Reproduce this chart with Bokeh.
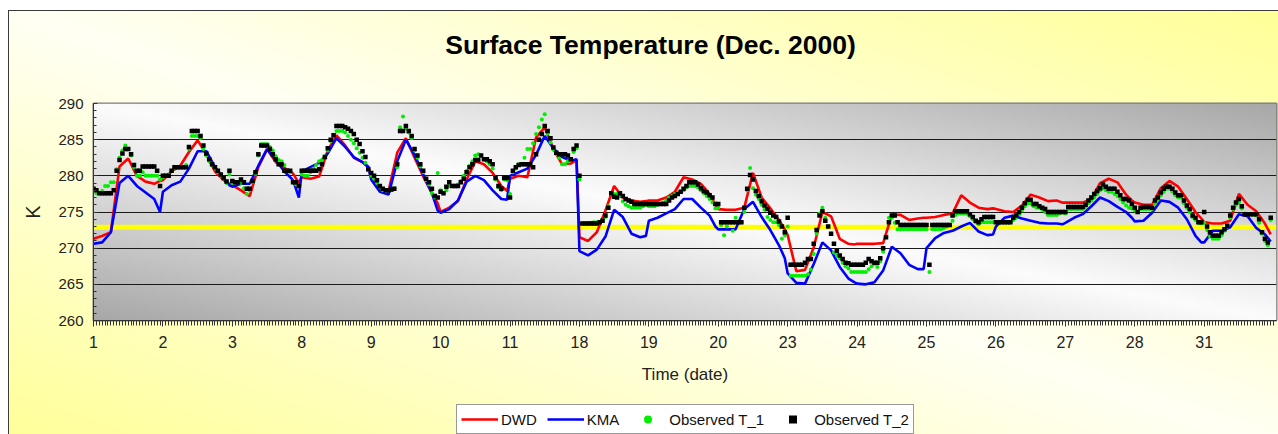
import numpy as np
from bokeh.plotting import figure
from bokeh.layouts import column
from bokeh.models import Range1d, FixedTicker, Span, Legend, LegendItem, Label
from bokeh.embed import file_html
from bokeh.resources import INLINE

TITLE = "Surface Temperature (Dec. 2000)"
DAY_LABELS = ["1", "2", "3", "8", "9", "10", "11", "18", "19", "20",
              "23", "24", "25", "26", "27", "28", "31"]
HOURS_PER_DAY = 24
LINE_HOURS = [0, 3, 6, 9, 12, 15, 18, 21, 23]
FREEZING_K = 272.9
Y_TICKS = [260, 265, 270, 275, 280, 285, 290]
SERIES_NAMES = ["DWD", "KMA", "Observed T_1", "Observed T_2"]

# model forecasts, one row per day, at LINE_HOURS
DWD = [
    [271.3, 271.7, 272.2, 281.3, 282.4, 280.0, 279.2, 278.9, 279.3],
    [279.4, 280.6, 281.4, 283.3, 284.9, 283.0, 280.6, 279.4, 278.9],
    [278.7, 278.0, 277.2, 281.2, 283.7, 281.9, 281.1, 280.3, 279.0],
    [279.8, 279.6, 279.9, 283.5, 285.6, 284.2, 282.5, 281.9, 281.3],
    [279.9, 278.0, 277.9, 283.2, 285.2, 282.5, 279.9, 277.6, 276.2],
    [275.0, 275.6, 276.5, 279.5, 282.0, 281.6, 280.4, 278.6, 277.9],
    [279.6, 280.0, 279.8, 285.3, 286.7, 283.7, 281.6, 281.7, 282.2],
    [271.5, 271.0, 272.2, 275.2, 278.6, 277.0, 276.6, 276.4, 276.5],
    [276.6, 276.6, 277.0, 277.8, 279.8, 279.5, 278.9, 277.5, 276.0],
    [275.4, 275.3, 275.3, 275.6, 280.4, 277.0, 275.5, 273.9, 272.6],
    [271.8, 266.8, 267.0, 270.1, 275.0, 274.4, 271.3, 270.6, 270.5],
    [270.6, 270.6, 270.6, 270.7, 274.6, 274.6, 273.9, 274.1, 274.2],
    [274.2, 274.3, 274.6, 274.8, 277.3, 276.3, 275.6, 275.4, 275.5],
    [275.4, 275.1, 275.0, 275.9, 277.4, 277.0, 276.5, 276.6, 276.3],
    [276.3, 276.3, 276.3, 276.8, 279.0, 279.6, 279.1, 277.4, 276.6],
    [276.3, 276.0, 276.0, 278.3, 279.3, 278.5, 276.8, 275.0, 274.1],
    [273.6, 273.4, 273.4, 273.8, 277.5, 276.0, 275.1, 273.4, 271.9],
]
KMA = [
    [270.6, 270.8, 272.2, 279.0, 280.0, 278.6, 277.7, 276.8, 275.0],
    [277.8, 278.7, 279.2, 281.0, 283.4, 283.4, 281.2, 279.6, 278.7],
    [278.5, 278.9, 278.9, 281.4, 283.7, 282.2, 280.6, 279.4, 277.0],
    [280.6, 281.2, 281.8, 283.1, 285.2, 284.0, 282.6, 281.9, 281.2],
    [279.5, 277.8, 277.4, 282.0, 285.0, 282.9, 280.2, 277.6, 275.2],
    [274.9, 275.4, 276.6, 279.2, 280.0, 279.4, 278.0, 276.8, 276.7],
    [280.0, 280.5, 281.0, 282.9, 285.5, 283.8, 282.6, 282.1, 282.3],
    [269.6, 269.0, 269.8, 271.6, 275.3, 274.3, 272.0, 271.5, 271.7],
    [273.8, 274.2, 274.8, 275.4, 276.8, 276.8, 275.6, 274.5, 273.0],
    [272.6, 272.6, 272.6, 275.4, 276.4, 274.3, 272.5, 270.4, 268.6],
    [266.5, 265.2, 265.1, 267.8, 270.8, 269.7, 267.4, 265.8, 265.3],
    [265.1, 265.0, 265.3, 266.9, 270.2, 269.3, 267.7, 267.1, 267.1],
    [270.0, 271.4, 272.1, 272.4, 273.0, 273.5, 272.3, 271.8, 271.9],
    [273.0, 274.2, 274.5, 274.1, 273.8, 273.5, 273.4, 273.4, 273.3],
    [273.5, 274.2, 274.7, 275.8, 277.0, 276.5, 275.7, 275.0, 274.2],
    [273.7, 273.8, 274.9, 276.6, 276.4, 275.6, 274.0, 271.7, 270.8],
    [270.8, 272.4, 272.4, 272.9, 274.7, 274.4, 272.8, 271.9, 270.9],
]

# hourly observations, one row of 24 per day
OBS_T1 = [
    [278.2,277.6,277.6,277.9,278.6,278.6,279.1,279.1,280.9,282.5,283.5,284.2,283.7,282.8,281.2,280.0,280.0,280.5,280.0,280.0,280.0,280.0,280.0,279.5],
    [279.8,280.0,280.2,280.7,281.0,281.2,281.2,281.2,281.5,283.7,285.5,285.5,285.5,285.2,283.7,282.8,282.0,281.5,281.0,280.5,280.0,279.6,279.0,280.2],
    [279.0,279.1,279.1,279.0,278.3,277.5,278.0,279.1,280.3,282.8,284.4,284.4,284.4,284.0,283.5,282.7,282.2,282.0,281.5,280.7,280.5,279.2,278.8,278.6],
    [280.2,280.0,280.0,280.5,281.0,281.5,282.0,282.2,282.7,283.5,284.8,285.5,286.2,286.2,286.2,286.0,285.5,285.0,284.5,283.8,283.2,282.5,281.8,280.8],
    [280.0,279.6,279.0,278.5,278.0,278.0,278.0,278.0,278.3,281.2,286.7,288.2,286.5,286.0,285.2,283.5,282.5,281.3,280.5,279.4,278.8,277.6,277.0,280.4],
    [278.0,277.6,278.0,278.6,278.6,278.6,278.8,279.3,280.0,280.7,281.4,282.0,282.8,283.0,282.8,282.3,282.0,281.6,281.0,279.5,278.4,278.0,279.5,279.4],
    [277.5,280.5,281.0,281.6,281.6,282.5,283.7,283.7,284.5,285.8,286.7,287.8,288.5,285.9,284.6,283.6,283.0,282.5,281.6,281.6,282.0,282.2,283.3,283.8],
    [279.5,273.4,273.4,273.4,273.5,273.6,273.6,273.6,273.8,274.3,275.8,277.5,277.5,277.5,277.2,276.5,276.0,275.8,275.6,275.6,275.6,275.6,275.8,276.0],
    [275.8,275.8,275.8,276.0,276.1,276.3,276.6,277.0,277.2,277.5,277.6,277.8,278.0,278.4,278.6,278.6,278.6,278.4,278.0,277.6,277.2,276.8,276.3,275.5],
    [275.6,273.2,271.8,273.0,273.6,272.4,274.2,273.6,273.6,275.0,278.0,281.1,278.3,277.4,276.8,276.0,275.3,274.3,273.9,273.6,273.6,273.2,271.3,271.8],
    [273.0,266.2,266.2,266.2,266.2,266.2,266.2,266.4,267.0,269.2,272.0,274.8,275.6,274.2,273.0,272.0,269.4,269.0,268.6,268.0,267.5,267.2,266.7,266.7],
    [266.7,266.7,266.7,266.7,267.1,267.5,267.8,267.4,268.2,269.5,271.5,274.2,274.2,273.5,272.6,272.6,272.6,272.6,272.6,272.6,272.6,272.6,272.6,272.6],
    [272.6,266.7,272.6,272.6,272.6,272.6,272.8,273.0,273.2,273.8,274.6,274.8,274.8,274.8,274.8,274.4,274.0,273.6,273.3,273.6,273.6,273.6,273.6,273.6],
    [273.6,273.6,273.6,273.6,273.6,273.6,273.9,274.2,274.7,275.2,275.8,276.2,276.2,275.8,275.6,275.6,275.3,275.0,274.6,274.6,274.6,274.6,274.8,275.0],
    [274.8,275.4,275.4,275.4,275.4,275.4,275.4,275.7,276.2,276.6,277.0,277.5,278.0,278.3,278.0,277.8,277.8,277.5,277.2,276.8,276.3,275.9,275.6,275.5],
    [275.2,275.0,275.4,275.4,275.4,275.4,275.4,276.2,276.8,277.3,277.8,278.2,278.2,277.8,277.3,277.0,277.0,276.2,275.6,275.0,274.3,273.9,273.5,273.4],
    [273.5,272.5,271.6,271.3,271.3,271.3,271.8,272.4,273.0,274.2,275.4,276.0,276.3,275.5,274.8,274.7,274.7,274.7,274.5,273.5,272.0,271.0,270.4,273.9],
]
OBS_T2 = [
    [278.2,278.0,277.6,277.6,277.6,277.6,277.6,278.0,280.7,282.2,283.1,283.7,283.7,283.0,281.5,280.7,280.7,281.3,281.3,281.3,281.3,281.3,280.7,278.6],
    [280.0,280.0,280.0,280.7,281.2,281.2,281.2,281.2,281.2,284.0,286.2,286.2,286.2,285.5,284.2,283.1,282.3,281.6,281.2,280.7,280.2,279.7,279.2,280.7],
    [279.3,279.1,279.1,279.5,279.1,278.2,278.2,279.3,280.5,283.0,284.2,284.2,284.2,283.7,283.0,282.3,281.6,281.6,280.7,280.7,280.7,279.1,279.1,278.6],
    [280.7,280.7,280.7,280.7,280.7,280.7,280.9,281.6,282.6,283.8,285.0,285.6,286.9,286.9,286.9,286.7,286.5,286.2,285.8,285.0,284.4,283.4,282.6,280.9],
    [280.4,280.0,279.4,278.6,278.2,278.0,278.0,278.1,278.2,281.6,286.2,286.2,286.9,286.2,285.5,283.7,282.8,281.6,280.7,279.6,279.1,278.2,277.2,277.0],
    [277.8,277.6,278.5,279.1,278.6,278.6,278.6,279.1,279.6,280.5,281.2,281.6,282.2,282.2,282.8,282.3,282.3,282.0,281.6,279.7,278.6,278.2,279.7,279.7],
    [277.0,280.7,281.2,281.5,281.6,281.6,281.6,281.6,281.2,283.0,285.0,285.8,286.9,286.2,285.2,283.9,283.2,283.0,283.0,283.0,282.8,282.3,283.7,284.2],
    [280.0,273.4,273.4,273.4,273.4,273.4,273.4,273.6,273.8,274.5,275.6,277.6,277.1,277.0,277.6,277.2,276.8,276.6,276.4,276.1,276.1,276.1,276.1,276.1],
    [276.1,276.1,276.1,276.1,276.1,276.1,276.1,276.6,277.0,277.2,277.5,277.8,278.2,278.6,279.1,279.1,279.1,278.8,278.3,277.9,277.7,277.3,277.0,276.1],
    [276.1,273.6,273.6,273.6,273.6,273.6,273.6,273.6,273.6,275.6,278.2,280.1,279.5,277.9,277.2,276.5,275.9,275.4,274.9,274.5,274.3,273.7,273.0,272.2],
    [274.2,267.7,267.7,267.7,267.7,267.7,268.0,268.5,268.5,270.6,272.5,274.5,275.1,273.8,273.0,272.0,270.6,269.6,269.0,268.5,268.0,267.9,267.7,267.7],
    [267.7,267.7,267.7,268.0,268.5,268.2,268.0,268.0,268.6,270.0,271.5,273.6,274.5,274.5,273.6,273.2,273.2,273.2,273.2,273.2,273.2,273.2,273.2,273.2],
    [273.2,267.7,273.2,273.2,273.2,273.2,273.2,273.2,273.2,274.5,275.1,275.1,275.1,275.1,275.1,274.7,274.3,273.8,273.6,274.0,274.3,274.3,274.3,274.3],
    [273.6,273.6,273.6,273.6,273.6,273.6,274.2,274.5,275.0,275.6,276.2,276.7,276.7,276.1,276.1,275.8,275.6,275.4,275.0,275.0,275.0,275.0,275.0,275.0],
    [275.0,275.7,275.7,275.7,275.7,275.7,275.7,276.0,276.6,277.0,277.5,277.9,278.3,278.8,278.5,278.2,278.2,278.2,277.8,277.3,276.8,276.8,276.6,276.1],
    [275.6,275.0,275.6,275.7,275.7,275.7,275.6,276.6,277.0,277.7,278.2,278.5,278.5,278.2,277.7,277.3,277.3,276.6,275.9,275.4,274.5,274.2,273.6,273.6],
    [275.0,273.0,272.2,271.7,271.7,271.7,272.2,272.6,273.1,274.5,275.6,276.3,276.8,275.8,274.7,274.7,274.7,274.7,274.7,274.0,272.2,271.3,270.8,274.2],
]

n_days = len(DAY_LABELS)
total_hours = n_days * HOURS_PER_DAY

line_x = [d * HOURS_PER_DAY + h for d in range(n_days) for h in LINE_HOURS]
dwd_y = [v for day in DWD for v in day]
kma_y = [v for day in KMA for v in day]
obs_x = [d * HOURS_PER_DAY + h for d in range(n_days) for h in range(HOURS_PER_DAY)]
t1_y = [v for day in OBS_T1 for v in day]
t2_y = [v for day in OBS_T2 for v in day]

FONT = "Liberation Sans"
STYLE = {
    "DWD": dict(line_color="#FF0000", line_width=2.6),
    "KMA": dict(line_color="#0000FF", line_width=2.6),
    "T1": dict(marker="circle", size=4, fill_color="#00EE00", line_color=None),
    "T2": dict(marker="square", size=4.5, fill_color="#000000", line_color=None),
}

W = 1278
H_TOP = 70          # title strip
H_MAIN = 320        # chart (frame top at 103, bottom at 320 on the page)
H_LEG = 434 - H_TOP - H_MAIN
FRAME_LEFT, FRAME_RIGHT = 93, 1276
TITLE_CENTER = (650, 44)

# ---------------- title strip ----------------
pt = figure(width=W, height=H_TOP, x_range=Range1d(0, 1), y_range=Range1d(0, 1),
            output_backend="svg", toolbar_location=None, tools="",
            x_axis_location=None, y_axis_location=None, min_border=0)
pt.grid.visible = False
pt.outline_line_color = None
pt.background_fill_alpha = 0
pt.border_fill_alpha = 0
pt.add_layout(Label(
    x=(TITLE_CENTER[0] - FRAME_LEFT) / (FRAME_RIGHT - FRAME_LEFT),
    y=(H_TOP - TITLE_CENTER[1]) / H_TOP,
    text=TITLE, text_align="center", text_baseline="middle",
    text_font=FONT, text_font_size="26.5px", text_font_style="bold",
    text_color="black"))

# ---------------- main chart ----------------
x_range = Range1d(0, total_hours + 1)
y_range = Range1d(Y_TICKS[0], Y_TICKS[-1])

p = figure(width=W, height=H_MAIN, x_range=x_range, y_range=y_range,
           output_backend="svg", toolbar_location=None, tools="",
           min_border_left=FRAME_LEFT, min_border_right=W - FRAME_RIGHT,
           min_border_top=103 - H_TOP, min_border_bottom=H_TOP + H_MAIN - 320)
p.border_fill_alpha = 0
p.outline_line_color = "#7a7a7a"
p.outline_line_width = 2

# plot-area shaded background
nx, ny = 300, 80
u = np.linspace(0, 1, nx)[None, :]
v = np.linspace(0, 1, ny)[:, None]
s = np.abs(u + v - 1.0)
g = np.clip(252 - 84 * s, 0, 255).astype(np.uint8)
img = np.empty((ny, nx), dtype=np.uint32)
view = img.view(dtype=np.uint8).reshape((ny, nx, 4))
view[..., 0] = g
view[..., 1] = g
view[..., 2] = g
view[..., 3] = 255
p.image_rgba(image=[img], x=x_range.start, y=y_range.start,
             dw=x_range.end - x_range.start, dh=y_range.end - y_range.start,
             level="image")

# grid
p.xgrid.visible = False
p.ygrid.ticker = FixedTicker(ticks=Y_TICKS)
p.ygrid.grid_line_color = "#1a1a1a"
p.ygrid.grid_line_width = 1

# y axis
yax = p.yaxis[0]
yax.ticker = FixedTicker(ticks=Y_TICKS, minor_ticks=list(range(Y_TICKS[0], Y_TICKS[-1] + 1)))
yax.axis_label = "K"
yax.axis_label_text_font = FONT
yax.axis_label_text_font_size = "20px"
yax.axis_label_text_font_style = "normal"
yax.axis_label_text_color = "#222222"
yax.axis_label_standoff = 11
yax.major_label_text_font = FONT
yax.major_label_text_font_size = "15px"
yax.major_label_text_color = "#222222"
yax.major_label_standoff = 10
yax.major_tick_in = 4
yax.major_tick_out = 0
yax.minor_tick_in = 3
yax.minor_tick_out = 0
yax.axis_line_color = "#333333"
yax.major_tick_line_color = "#333333"
yax.minor_tick_line_color = "#333333"

# x axis
xax = p.xaxis[0]
day_starts = [d * HOURS_PER_DAY for d in range(n_days)]
xax.ticker = FixedTicker(ticks=day_starts, minor_ticks=list(range(0, total_hours + 1)))
xax.major_label_overrides = {t: lab for t, lab in zip(day_starts, DAY_LABELS)}
xax.axis_label = "Time (date)"
xax.axis_label_text_font = FONT
xax.axis_label_text_font_size = "17px"
xax.axis_label_text_font_style = "normal"
xax.axis_label_text_color = "#222222"
xax.axis_label_standoff = 14
xax.major_label_text_font = FONT
xax.major_label_text_font_size = "16px"
xax.major_label_text_color = "#222222"
xax.major_label_standoff = 9
xax.major_tick_in = 0
xax.major_tick_out = 6
xax.minor_tick_in = 0
xax.minor_tick_out = 5
xax.axis_line_color = "#333333"
xax.major_tick_line_color = "#333333"
xax.minor_tick_line_color = "#333333"

# freezing-point line
p.add_layout(Span(location=FREEZING_K, dimension="width", line_color="#FFFF00",
                  line_width=5, level="underlay"))

p.line(line_x, dwd_y, **STYLE["DWD"])
p.line(line_x, kma_y, **STYLE["KMA"])
p.scatter(obs_x, t1_y, **STYLE["T1"])
p.scatter(obs_x, t2_y, **STYLE["T2"])

# ---------------- legend strip (same series, outside its view) ----------------
pl = figure(width=W, height=H_LEG, x_range=Range1d(0, 1), y_range=Range1d(0, 1),
            output_backend="svg", toolbar_location=None, tools="",
            x_axis_location=None, y_axis_location=None, min_border=0)
pl.grid.visible = False
pl.outline_line_color = None
pl.background_fill_alpha = 0
pl.border_fill_alpha = 0
l1 = pl.line(line_x, dwd_y, **STYLE["DWD"])
l2 = pl.line(line_x, kma_y, **STYLE["KMA"])
l3 = pl.scatter(obs_x, t1_y, **STYLE["T1"])
l4 = pl.scatter(obs_x, t2_y, **STYLE["T2"])
legend = Legend(items=[LegendItem(label=n, renderers=[r])
                       for n, r in zip(SERIES_NAMES, [l1, l2, l3, l4])],
                orientation="horizontal", location=(363, 0),
                glyph_width=37, glyph_height=20,
                label_standoff=3, spacing=10, padding=4, margin=0,
                border_line_color="#333333", border_line_width=1,
                background_fill_color="white", background_fill_alpha=1,
                label_text_font=FONT, label_text_font_size="15px",
                label_text_color="#111111")
pl.add_layout(legend)

line_col = "#3a3a3a"
layout = column(pt, p, pl, spacing=0)
layout.styles = {
    "background": (
        f"linear-gradient({line_col},{line_col}) 8px 10px / 1px 100% no-repeat, "
        f"linear-gradient({line_col},{line_col}) 8px 10px / 100% 1px no-repeat, "
        "linear-gradient(to top right, #FFFF96 0%, #FFFFF4 50%, #FFFF96 100%) "
        "8px 10px / 1284px 440px no-repeat, #FFFFFF"
    ),
}

open("out.html", "w").write(file_html(layout, INLINE))
